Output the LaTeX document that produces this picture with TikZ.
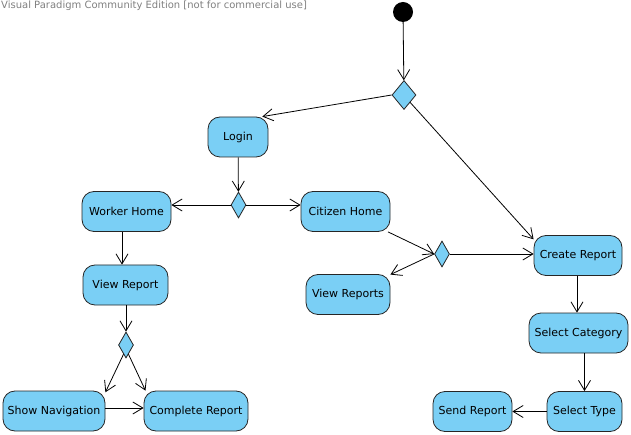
\documentclass[tikz,border=0pt]{standalone}
\usepackage{fontspec}
\setmainfont{DejaVu Sans}
\usetikzlibrary{shapes.geometric,arrows.meta,positioning}

\definecolor{actblue}{RGB}{122,207,245}

\begin{document}
\begin{tikzpicture}[
    x=1pt, y=-1pt,
    actbox/.style={rectangle, rounded corners=12pt, draw=black!85, line width=0.8pt, fill=actblue, minimum height=40pt, inner xsep=4pt, font=\fontsize{11}{13}\selectfont},
    decision/.style={diamond, draw=black!85, line width=0.8pt, fill=actblue, inner sep=0pt, minimum width=15pt, minimum height=26pt},
    arrow/.style={-{Straight Barb[length=10pt,width=12pt]}, line width=0.8pt}
]
\useasboundingbox (0,0) rectangle (631,435);

\node[anchor=north west, inner sep=0pt, text=black!50, font=\fontsize{10}{12}\selectfont] (watermark) at (1,1) {Visual Paradigm Community Edition [not for commercial use]};

% === Start and first split ===
\node[circle, fill=black, minimum size=20pt, inner sep=0pt] (start) at (403,12) {};
\node[decision, minimum width=24pt, minimum height=29pt] (dec-start) at (404,95) {};

% === Login branch ===
\node[actbox, minimum width=60pt] (login) at (238,137) {Login};
\node[decision] (dec-login) at (238.5,205) {};
\node[actbox, minimum width=89pt] (workerhome) at (126.5,211.5) {Worker Home};
\node[actbox, minimum width=89pt] (citizenhome) at (345.5,211.5) {Citizen Home};

% === Worker side ===
\node[actbox, minimum width=85pt] (viewreport) at (125.5,285) {View Report};
\node[decision] (dec-worker) at (126,345) {};
\node[actbox, minimum width=102pt] (shownav) at (54,411) {Show Navigation};
\node[actbox, minimum width=104pt] (complete) at (196,411) {Complete Report};

% === Citizen side ===
\node[decision] (dec-citizen) at (442,254) {};
\node[actbox, minimum width=84pt] (viewreports) at (348,294.5) {View Reports};

% === Report creation ===
\node[actbox, minimum width=88pt] (create) at (578,255.5) {Create Report};
\node[actbox, minimum width=99pt] (selcat) at (578.5,333) {Select Category};
\node[actbox, minimum width=75pt] (seltype) at (584.5,411.5) {Select Type};
\node[actbox, minimum width=79pt] (sendreport) at (472.5,411.5) {Send Report};

% === Flows ===
\draw[arrow] (start) -- (dec-start);
\draw[arrow] (dec-start.west) -- (login.40);
\draw[arrow] (dec-start.south east) -- (create.160);
\draw[arrow] (login) -- (dec-login);
\draw[arrow] (dec-login.west) -- (dec-login.west -| workerhome.east);
\draw[arrow] (dec-login.east) -- (dec-login.east -| citizenhome.west);
\draw[arrow] ([xshift=-4.5pt]workerhome.south) -- ([xshift=-3.5pt]viewreport.north);
\draw[arrow] (viewreport.south -| dec-worker) -- (dec-worker);
\draw[arrow] (dec-worker.-105) -- (shownav.20);
\draw[arrow] (dec-worker.-75) -- (complete.158);
\draw[arrow] ([yshift=3pt]shownav.east) -- ([yshift=3pt]complete.west);
\draw[arrow] (citizenhome) -- (dec-citizen.west);
\draw[arrow] (dec-citizen.west) -- (viewreports);
\draw[arrow] (dec-citizen.east) -- (dec-citizen.east -| create.west);
\draw[arrow] ([xshift=-1pt]create.south) -- ([xshift=-1.5pt]selcat.north);
\draw[arrow] (selcat.south -| seltype) -- (seltype);
\draw[arrow] (seltype) -- (sendreport);

\end{tikzpicture}
\end{document}
